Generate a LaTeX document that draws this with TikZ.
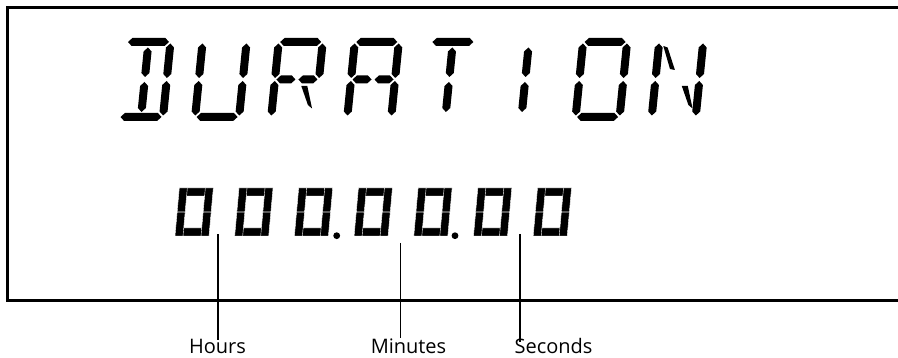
\documentclass[tikz,border=0pt]{standalone}
\usepackage{fontspec}
\setmainfont{Open Sans}
\usetikzlibrary{positioning}

% segments of the letter display (bottom bar at v=0, top bar at v=75)
\newcommand{\segh}[3]{\fill ({#1},{#3}) -- ({#1+4},{#3+4}) -- ({#2-4},{#3+4}) -- ({#2},{#3}) -- ({#2-4},{#3-4}) -- ({#1+4},{#3-4}) -- cycle;}
\newcommand{\segv}[3]{\fill ({#1},{#2}) -- ({#1+4},{#2+4}) -- ({#1+4},{#3-4}) -- ({#1},{#3}) -- ({#1-4},{#3-4}) -- ({#1-4},{#2+4}) -- cycle;}
\newcommand{\segA}{\segh{1.5}{42.5}{75}}
\newcommand{\segD}{\segh{1.5}{42.5}{0}}
\newcommand{\segF}{\segv{0}{39}{73.5}}
\newcommand{\segE}{\segv{0}{1.5}{36}}
\newcommand{\segB}{\segv{44}{39}{73.5}}
\newcommand{\segC}{\segv{44}{1.5}{36}}
\newcommand{\segGl}{\segh{1.5}{20.5}{37.5}}
\newcommand{\segGr}{\segh{23.5}{42.5}{37.5}}
\newcommand{\segI}{\segv{22}{40}{69.5}}
\newcommand{\segL}{\segv{22}{5}{35}}
\newcommand{\segH}{\fill (4.5,71) -- (9,69.5) -- (18.5,47) -- (13.5,48) -- cycle;}
\newcommand{\segM}{\fill (27,31) -- (33,31) -- (40,8.5) -- (35.5,12) -- cycle;}
\newcommand{\letterat}[2]{\begin{scope}[shift={(#1,241)}, xslant=0.1] #2 \end{scope}}
% one zero of the counter
\newcommand{\zeroat}[1]{\begin{scope}[shift={({#1},122)}, xslant=0.09]
  \path[dseg] (8,40) rectangle (26,48) (8,0) rectangle (26,8)
    (0,24.2) rectangle (8,48) (0,0) rectangle (8,23.8)
    (26,24.2) rectangle (34,48) (26,0) rectangle (34,23.8);
\end{scope}}

\begin{document}
\begin{tikzpicture}[x=1pt,y=1pt,
  tag/.style={font=\fontsize{20}{24}\selectfont, inner sep=0pt, anchor=base},
  dseg/.style={fill=black, draw=white, line width=0.4pt}]
  \useasboundingbox (0,0) rectangle (898,358);
  % Draw display frame
  \draw[line width=3pt] (898,350.5) -- (7,350.5) -- (7,57.5) -- (898,57.5);
  % Draw DURATION
  \letterat{119}{\segA\segD\segB\segC\segI\segL}
  \letterat{195.1}{\segF\segE\segB\segC\segD}
  \letterat{271.2}{\segA\segF\segE\segB\segGl\segGr\segM}
  \letterat{347.3}{\segA\segF\segE\segB\segC\segGl\segGr}
  \letterat{423.4}{\segA\segI\segL}
  \letterat{499.5}{\segI\segL}
  \letterat{575.6}{\segA\segD\segF\segE\segB\segC}
  \letterat{651.7}{\segF\segE\segB\segC\segH\segM}
  % Draw counter 000.00.00
  \foreach \k in {0,...,6} {\zeroat{175+59.7*\k}}
  \fill (336.7,122.3) circle (3.4);
  \fill (455,122.3) circle (3.4);
  % Draw labels
  \node[tag] (hours) at (217.5,4) {Hours};
  \node[tag] (minutes) at (408.5,4) {Minutes};
  \node[tag] (seconds) at (553.5,4) {Seconds};
  \coordinate (hourtick) at (218,123.7);
  \coordinate (mintick) at (400,115);
  \coordinate (sectick) at (520,124);
  \draw[line width=1.8pt] (hourtick) -- (hourtick |- hours.north);
  \draw[line width=0.9pt, shorten >=1.5pt] (mintick) -- (mintick |- minutes.north);
  \draw[line width=1.8pt, shorten >=-3pt] (sectick) -- (sectick |- seconds.north);
\end{tikzpicture}
\end{document}
